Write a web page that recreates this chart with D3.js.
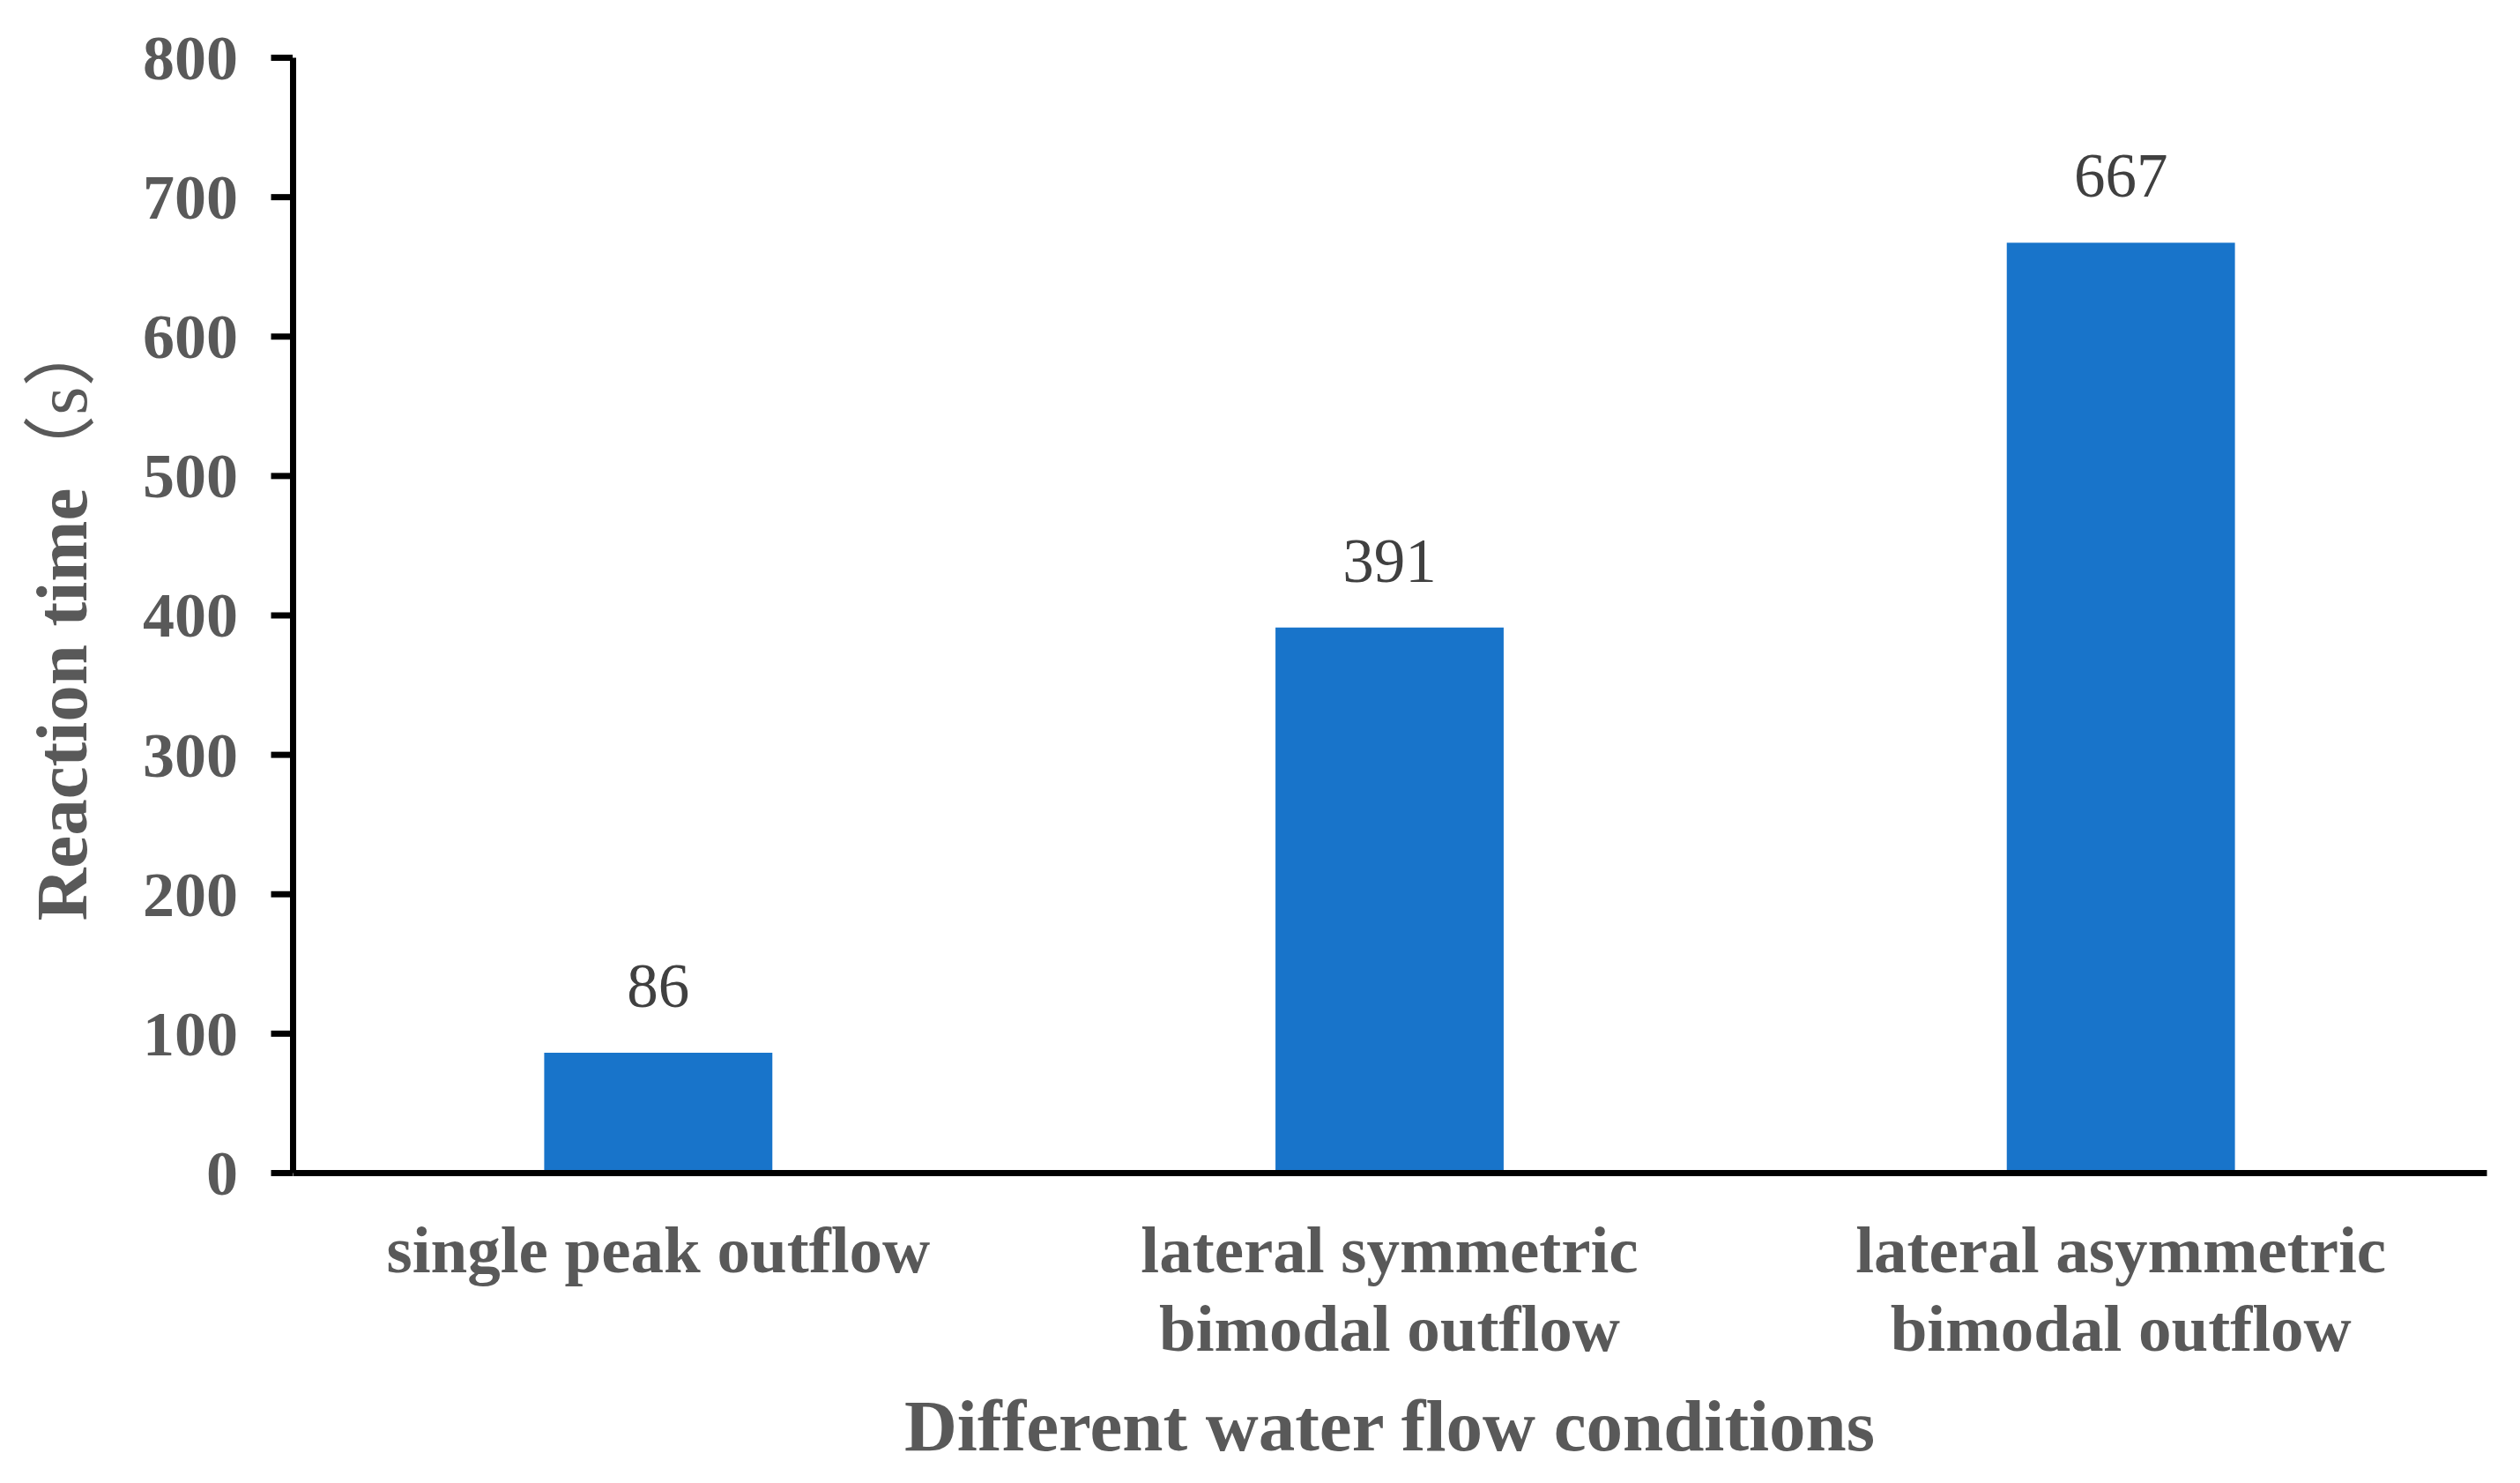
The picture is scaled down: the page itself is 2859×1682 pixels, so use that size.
<!DOCTYPE html>
<html>
<head>
<meta charset="utf-8">
<script src="https://cdn.jsdelivr.net/npm/d3@7"></script>
<style>
  html, body { margin: 0; padding: 0; background: #fff; }
  svg { display: block; }
</style>
</head>
<body>
<svg id="chart" width="2859" height="1682"></svg>
<script>
const categories = ["single peak outflow", "lateral symmetric bimodal outflow", "lateral asymmetric bimodal outflow"];
const categoryLines = [["single peak outflow"], ["lateral symmetric", "bimodal outflow"], ["lateral asymmetric", "bimodal outflow"]];
const reactionTime = [86, 391, 667];
const yTicks = [0, 100, 200, 300, 400, 500, 600, 700, 800];
const xTitle = "Different water flow conditions";
const yTitleMain = "Reaction time";
const yTitleUnitParts = ["（", "s", "）"];

(function () {
const svg = d3.select("#chart");
const W = 2859, H = 1682;
svg.append("rect").attr("width", W).attr("height", H).attr("fill", "#fff");

const mLeft = 332, mRight = 2821, mTop = 65, mBottom = 1330;
const serif = "'Liberation Serif', 'Times New Roman', serif";
const cjk = "'Noto Sans CJK SC', serif";

const x = d3.scaleBand().domain(categories).range([mLeft, mRight]).paddingInner(0.688).paddingOuter(0.344);
const y = d3.scaleLinear().domain([0, 800]).range([mBottom, mTop]);

// bars
svg.append("g").selectAll("rect").data(reactionTime).join("rect")
  .attr("x", (d, i) => x(categories[i]))
  .attr("y", d => y(d))
  .attr("width", x.bandwidth())
  .attr("height", d => y(0) - y(d))
  .attr("fill", "#1874CA");

// data labels
svg.append("g").selectAll("text").data(reactionTime).join("text")
  .attr("x", (d, i) => x(categories[i]) + x.bandwidth() / 2)
  .attr("y", d => y(d) - 52)
  .attr("text-anchor", "middle")
  .attr("font-family", serif)
  .attr("font-size", 71)
  .attr("fill", "#404040")
  .text(d => d);

// x axis
const gx = svg.append("g").attr("transform", `translate(0,${y(0)})`)
  .call(d3.axisBottom(x).tickSize(0).tickSizeOuter(0).tickFormat(""));
gx.select(".domain").attr("stroke", "#000").attr("stroke-width", 7);

// y axis
const gy = svg.append("g").attr("transform", `translate(${mLeft},0)`)
  .call(d3.axisLeft(y).tickValues(yTicks).tickSize(21).tickSizeOuter(0).tickPadding(41));
gy.select(".domain").attr("stroke", "#000").attr("stroke-width", 7);
gy.selectAll(".tick line").attr("stroke", "#000").attr("stroke-width", 7).attr("x2", -21 - 3.5);
gy.selectAll(".tick text")
  .attr("font-family", serif).attr("font-size", 72).attr("font-weight", "bold")
  .attr("fill", "#595959").attr("dy", "0.34em");

// category labels
const catG = svg.append("g");
categories.forEach((c, i) => {
  const cx = x(c) + x.bandwidth() / 2;
  const t = catG.append("text")
    .attr("x", cx)
    .attr("y", 1443)
    .attr("text-anchor", "middle")
    .attr("font-family", serif)
    .attr("font-size", 75)
    .attr("font-weight", "bold")
    .attr("fill", "#595959");
  categoryLines[i].forEach((ln, j) => {
    t.append("tspan").attr("x", cx).attr("y", 1443 + j * 89).text(ln);
  });
});

// x title
svg.append("text")
  .attr("x", (mLeft + mRight) / 2)
  .attr("y", 1645)
  .attr("text-anchor", "middle")
  .attr("font-family", serif)
  .attr("font-size", 83)
  .attr("font-weight", "bold")
  .attr("fill", "#595959")
  .text(xTitle);

// y title
const yt = svg.append("text")
  .attr("transform", `translate(98,700) rotate(-90)`)
  .attr("text-anchor", "middle")
  .attr("font-family", serif)
  .attr("font-size", 83)
  .attr("font-weight", "bold")
  .attr("fill", "#595959");
yt.append("tspan").text(yTitleMain);
yt.append("tspan").attr("font-family", cjk).attr("font-weight", "normal").text(yTitleUnitParts[0]);
yt.append("tspan").attr("font-weight", "normal").text(yTitleUnitParts[1]);
yt.append("tspan").attr("font-family", cjk).attr("font-weight", "normal").text(yTitleUnitParts[2]);
})();
</script>
</body>
</html>
